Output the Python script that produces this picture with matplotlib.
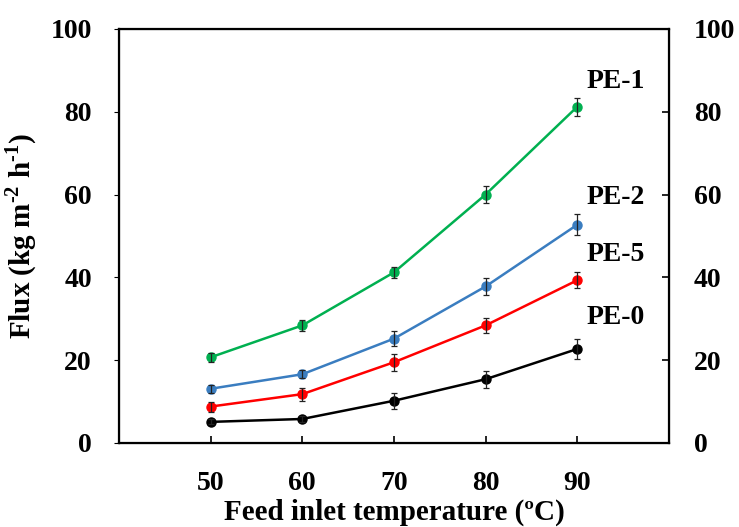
import numpy as np
import matplotlib
matplotlib.use("Agg")
import matplotlib.pyplot as plt

plt.rcParams['font.family'] = ['Liberation Serif', 'DejaVu Serif']
plt.rcParams['font.weight'] = 'bold'
plt.rcParams['mathtext.fontset'] = 'custom'
plt.rcParams['mathtext.rm'] = 'Liberation Serif'
plt.rcParams['mathtext.bf'] = 'Liberation Serif:bold'

# feed inlet temperature (oC)
temps = [50, 60, 70, 80, 90]

# flux values and error bars for each membrane
names = ['PE-1', 'PE-2', 'PE-5', 'PE-0']
flux_pe1 = [20.7, 28.4, 41.2, 60.0, 81.2]
err_pe1 = [1.1, 1.4, 1.4, 2.0, 2.2]
flux_pe2 = [13.1, 16.6, 25.2, 37.8, 52.7]
err_pe2 = [1.0, 1.0, 1.8, 2.0, 2.5]
flux_pe5 = [8.8, 11.8, 19.5, 28.4, 39.3]
err_pe5 = [1.2, 1.6, 2.0, 1.9, 1.9]
flux_pe0 = [5.1, 5.8, 10.2, 15.4, 22.7]
err_pe0 = [0.6, 0.7, 1.9, 2.1, 2.5]

colors = ['#00B050', '#3A7DC0', '#FF0000', '#000000']
label_y = [87.2, 59.2, 45.6, 30.4]

fig = plt.figure(figsize=(7.39, 5.27), dpi=100)
ax = fig.add_axes([0.161, 0.1594, 0.744, 0.7856])

series = [(flux_pe1, err_pe1), (flux_pe2, err_pe2), (flux_pe5, err_pe5), (flux_pe0, err_pe0)]
for (y, e), c, name, ly in zip(series, colors, names, label_y):
    ax.plot(temps, y, '-o', color=c, lw=1.8, ms=6.5, zorder=3)
    ax.errorbar(temps, y, yerr=e, fmt='none', ecolor='#222222', elinewidth=0.9,
                capsize=2.3, capthick=0.9, zorder=4)
    ax.text(91.0, ly, name, fontsize=20, fontweight='bold', va='center', ha='left')

ax.set_xlim(40, 100)
ax.set_ylim(0, 100)
ax.set_xticks(temps)
ax.set_yticks(np.arange(0, 101, 20))
for sp in ax.spines.values():
    sp.set_linewidth(1.6)

ax.tick_params(axis='x', direction='in', length=5, width=1.2, pad=20, labelsize=20)
ax.tick_params(axis='y', left=False, pad=16, labelsize=20)

# right hand axis with the same scale
ax2 = ax.twinx()
ax2.set_ylim(0, 100)
ax2.set_yticks(np.arange(0, 101, 20))
ax2.tick_params(axis='y', direction='in', length=5, width=1.2, pad=18, labelsize=20)

ax.set_xlabel('Feed inlet temperature (ºC)', fontsize=21, fontweight='bold', labelpad=2)
ax.set_ylabel('Flux (kg m$^{\\mathbf{‐2}}$ h$^{\\mathbf{‐1}}$)', fontsize=21,
              fontweight='bold', labelpad=8)

fig.savefig('out.png', dpi=100)
